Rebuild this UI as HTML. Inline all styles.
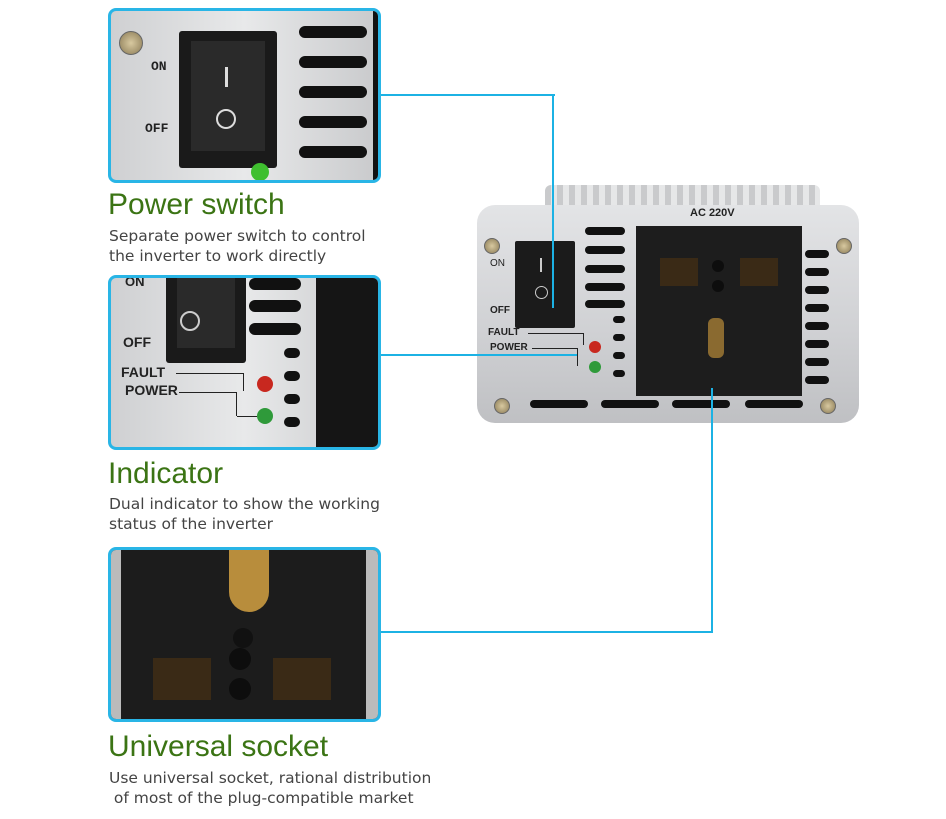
<!DOCTYPE html>
<html><head><meta charset="utf-8"><style>
*{margin:0;padding:0;box-sizing:border-box}
body{width:946px;height:819px;background:#fff;position:relative;overflow:hidden;font-family:"Liberation Sans",sans-serif}
.a{position:absolute}
.panel{position:absolute;left:108px;width:273px;height:175px;border:3px solid #29b5e6;border-radius:8px;overflow:hidden;background:linear-gradient(90deg,#cfd0d2,#e8e9ea 50%,#c9cacc)}
.h{position:absolute;left:108px;color:#3b7414;font-size:30px;font-family:"Liberation Sans",sans-serif}
.d{position:absolute;left:109px;color:#444;font-size:15.5px;line-height:20px;font-family:"DejaVu Sans","Liberation Sans",sans-serif}
.slot{position:absolute;background:#111;border-radius:6px}
.line{position:absolute;background:#1cb2e4}
.lbl{position:absolute;font-weight:bold;color:#222;font-size:13px}
.led{position:absolute;border-radius:50%}
.screw{position:absolute;width:16px;height:16px;border-radius:50%;background:radial-gradient(#d8c9a0,#8a7a55);border:1px solid #666}
</style></head><body>

<!-- Panel 1 -->
<div class="panel" style="top:8px">
  <div class="screw" style="left:8px;top:20px;width:24px;height:24px"></div>
  <div class="lbl" style="left:40px;top:48px;font-family:'Liberation Mono',monospace">ON</div>
  <div class="lbl" style="left:34px;top:110px;font-family:'Liberation Mono',monospace">OFF</div>
  <div class="a" style="left:68px;top:20px;width:98px;height:137px;background:#1a1a1a;border-radius:3px"></div>
  <div class="a" style="left:80px;top:30px;width:74px;height:110px;background:#2a2a2a"></div>
  <div class="a" style="left:114px;top:56px;width:3px;height:20px;background:#ddd"></div>
  <div class="a" style="left:105px;top:98px;width:20px;height:20px;border:2px solid #ddd;border-radius:50%"></div>
  <div class="led" style="left:140px;top:152px;width:18px;height:18px;background:#3fbf2f"></div>
  <div class="slot" style="left:188px;top:15px;width:68px;height:12px"></div>
  <div class="slot" style="left:188px;top:45px;width:68px;height:12px"></div>
  <div class="slot" style="left:188px;top:75px;width:68px;height:12px"></div>
  <div class="slot" style="left:188px;top:105px;width:68px;height:12px"></div>
  <div class="slot" style="left:188px;top:135px;width:68px;height:12px"></div>
  <div class="a" style="left:262px;top:0;width:12px;height:175px;background:#111"></div>
</div>
<div class="h" style="top:188px">Power switch</div>
<div class="d" style="top:226px">Separate power switch to control<br>the inverter to work directly</div>

<!-- Panel 2 -->
<div class="panel" style="top:275px">
  <div class="lbl" style="left:14px;top:-4px">ON</div>
  <div class="a" style="left:55px;top:0;width:80px;height:85px;background:#1a1a1a;border-radius:0 0 3px 3px"></div>
  <div class="a" style="left:66px;top:0;width:58px;height:70px;background:#2a2a2a"></div>
  <div class="a" style="left:69px;top:33px;width:20px;height:20px;border:2px solid #ccc;border-radius:50%"></div>
  <div class="lbl" style="left:12px;top:56px;font-size:14px">OFF</div>
  <div class="lbl" style="left:10px;top:86px;font-size:14px">FAULT</div>
  <div class="lbl" style="left:14px;top:104px;font-size:14px">POWER</div>
  <div class="a" style="left:65px;top:95px;width:68px;border-top:1px solid #222;border-right:1px solid #222;height:18px"></div>
  <div class="a" style="left:68px;top:114px;width:58px;border-top:1px solid #222;border-right:1px solid #222;height:24px"></div>
  <div class="a" style="left:126px;top:138px;width:20px;border-top:1px solid #222"></div>
  <div class="led" style="left:146px;top:98px;width:16px;height:16px;background:#c8281f"></div>
  <div class="led" style="left:146px;top:130px;width:16px;height:16px;background:#2f9a3a"></div>
  <div class="slot" style="left:138px;top:0;width:52px;height:12px"></div>
  <div class="slot" style="left:138px;top:22px;width:52px;height:12px"></div>
  <div class="slot" style="left:138px;top:45px;width:52px;height:12px"></div>
  <div class="slot" style="left:173px;top:70px;width:16px;height:10px"></div>
  <div class="slot" style="left:173px;top:93px;width:16px;height:10px"></div>
  <div class="slot" style="left:173px;top:116px;width:16px;height:10px"></div>
  <div class="slot" style="left:173px;top:139px;width:16px;height:10px"></div>
  <div class="a" style="left:205px;top:0;width:70px;height:175px;background:#151515"></div>
</div>
<div class="h" style="top:457px">Indicator</div>
<div class="d" style="top:494px">Dual indicator to show the working<br>status of the inverter</div>

<!-- Panel 3 -->
<div class="panel" style="top:547px;background:#1c1c1c">
  <div class="a" style="left:0;top:0;width:10px;height:175px;background:#bbb"></div>
  <div class="a" style="left:255px;top:0;width:20px;height:175px;background:#bbb"></div>
  <div class="a" style="left:118px;top:0;width:40px;height:62px;background:#b88d3c;border-radius:0 0 20px 20px"></div>
  <div class="led" style="left:122px;top:78px;width:20px;height:20px;background:#111"></div>
  <div class="led" style="left:118px;top:98px;width:22px;height:22px;background:#0d0d0d"></div>
  <div class="led" style="left:118px;top:128px;width:22px;height:22px;background:#0d0d0d"></div>
  <div class="a" style="left:42px;top:108px;width:58px;height:42px;background:#3a2a16"></div>
  <div class="a" style="left:162px;top:108px;width:58px;height:42px;background:#3a2a16"></div>
</div>
<div class="h" style="top:730px">Universal socket</div>
<div class="d" style="top:768px">Use universal socket, rational distribution<br>&nbsp;of most of the plug-compatible market</div>

<!-- Inverter -->
<div class="a" style="left:545px;top:185px;width:275px;height:30px;background:repeating-linear-gradient(90deg,#c9cacc 0 6px,#e6e7e8 6px 12px);border-radius:6px 6px 0 0"></div>
<div class="a" style="left:477px;top:205px;width:382px;height:218px;background:linear-gradient(180deg,#e3e4e6,#cfd0d3 60%,#bfc0c3);border-radius:18px"></div>
<div class="lbl" style="left:690px;top:207px;font-size:11px">AC 220V</div>
<div class="screw" style="left:484px;top:238px"></div>
<div class="screw" style="left:836px;top:238px"></div>
<div class="screw" style="left:494px;top:398px"></div>
<div class="screw" style="left:820px;top:398px"></div>
<div class="lbl" style="left:490px;top:258px;font-size:10px;font-weight:normal">ON</div>
<div class="lbl" style="left:490px;top:305px;font-size:10px">OFF</div>
<div class="a" style="left:515px;top:241px;width:60px;height:87px;background:#1b1b1b;border-radius:2px"></div>
<div class="a" style="left:540px;top:258px;width:2px;height:14px;background:#ccc"></div>
<div class="a" style="left:535px;top:286px;width:13px;height:13px;border:1.5px solid #ccc;border-radius:50%"></div>
<div class="lbl" style="left:488px;top:327px;font-size:10px">FAULT</div>
<div class="lbl" style="left:490px;top:342px;font-size:10px">POWER</div>
<div class="a" style="left:528px;top:333px;width:56px;height:12px;border-top:1px solid #222;border-right:1px solid #222"></div>
<div class="a" style="left:532px;top:348px;width:46px;height:18px;border-top:1px solid #222;border-right:1px solid #222"></div>
<div class="led" style="left:589px;top:341px;width:12px;height:12px;background:#c8281f"></div>
<div class="led" style="left:589px;top:361px;width:12px;height:12px;background:#2f9a3a"></div>
<div class="slot" style="left:585px;top:227px;width:40px;height:8px"></div>
<div class="slot" style="left:585px;top:246px;width:40px;height:8px"></div>
<div class="slot" style="left:585px;top:265px;width:40px;height:8px"></div>
<div class="slot" style="left:585px;top:283px;width:40px;height:8px"></div>
<div class="slot" style="left:585px;top:300px;width:40px;height:8px"></div>
<div class="slot" style="left:613px;top:316px;width:12px;height:7px"></div>
<div class="slot" style="left:613px;top:334px;width:12px;height:7px"></div>
<div class="slot" style="left:613px;top:352px;width:12px;height:7px"></div>
<div class="slot" style="left:613px;top:370px;width:12px;height:7px"></div>
<div class="a" style="left:636px;top:226px;width:166px;height:170px;background:#1d1d1d"></div>
<div class="a" style="left:660px;top:258px;width:38px;height:28px;background:#3a2a16"></div>
<div class="a" style="left:740px;top:258px;width:38px;height:28px;background:#3a2a16"></div>
<div class="led" style="left:712px;top:260px;width:12px;height:12px;background:#0d0d0d"></div>
<div class="led" style="left:712px;top:280px;width:12px;height:12px;background:#0d0d0d"></div>
<div class="a" style="left:708px;top:318px;width:16px;height:40px;background:#8a6a30;border-radius:6px"></div>
<div class="slot" style="left:805px;top:250px;width:24px;height:8px"></div>
<div class="slot" style="left:805px;top:268px;width:24px;height:8px"></div>
<div class="slot" style="left:805px;top:286px;width:24px;height:8px"></div>
<div class="slot" style="left:805px;top:304px;width:24px;height:8px"></div>
<div class="slot" style="left:805px;top:322px;width:24px;height:8px"></div>
<div class="slot" style="left:805px;top:340px;width:24px;height:8px"></div>
<div class="slot" style="left:805px;top:358px;width:24px;height:8px"></div>
<div class="slot" style="left:805px;top:376px;width:24px;height:8px"></div>
<div class="slot" style="left:530px;top:400px;width:58px;height:8px"></div>
<div class="slot" style="left:601px;top:400px;width:58px;height:8px"></div>
<div class="slot" style="left:672px;top:400px;width:58px;height:8px"></div>
<div class="slot" style="left:745px;top:400px;width:58px;height:8px"></div>

<!-- connectors -->
<div class="line" style="left:381px;top:94px;width:174px;height:2px"></div>
<div class="line" style="left:552px;top:94px;width:2px;height:214px"></div>
<div class="line" style="left:381px;top:354px;width:196px;height:2px"></div>
<div class="line" style="left:381px;top:631px;width:332px;height:2px"></div>
<div class="line" style="left:711px;top:388px;width:2px;height:245px"></div>
</body></html>
